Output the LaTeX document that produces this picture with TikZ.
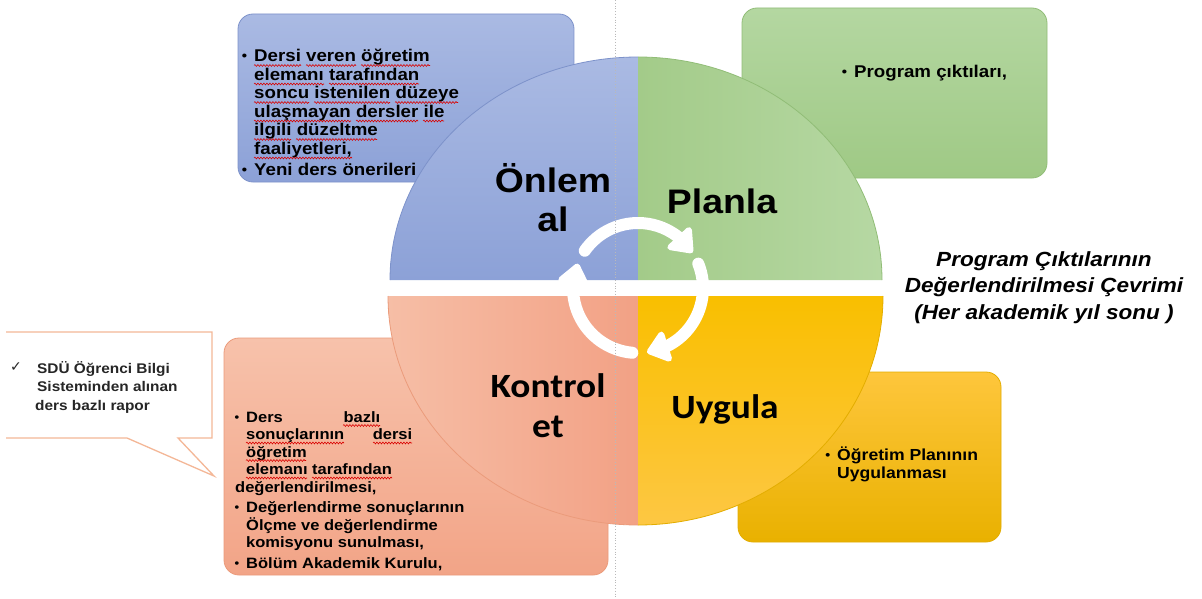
\documentclass[tikz,border=0pt]{standalone}
\usepackage{fontspec}
\setmainfont[FakeStretch=1.1]{Liberation Sans}
\newfontfamily\calfont[FakeStretch=1.1]{Carlito}
\newfontfamily\symfont{DejaVu Sans}
\usepackage{graphicx}
\usetikzlibrary{arrows.meta,bending,decorations.pathmorphing}

\definecolor{blaaTopp}{HTML}{AABAE3}
\definecolor{blaaBunn}{HTML}{8CA1D7}
\definecolor{blaaKant}{HTML}{7D92CA}
\definecolor{gronnV}{HTML}{A3CB89}
\definecolor{gronnH}{HTML}{B6D8A3}
\definecolor{gronnTopp}{HTML}{B4D7A1}
\definecolor{gronnBunn}{HTML}{9FC985}
\definecolor{gronnKant}{HTML}{91BD77}
\definecolor{oransjeV}{HTML}{F6BEA6}
\definecolor{oransjeH}{HTML}{F2A185}
\definecolor{oransjeTopp}{HTML}{F7C2AB}
\definecolor{oransjeBunn}{HTML}{F2A487}
\definecolor{oransjeKant}{HTML}{EB9B7B}
\definecolor{gulTopp}{HTML}{FEC63C}
\definecolor{gulBunn}{HTML}{E9B100}
\definecolor{gulKvartTopp}{HTML}{F9BF00}
\definecolor{gulKvartBunn}{HTML}{FDC743}
\definecolor{gulKant}{HTML}{E3AD00}
\definecolor{boble}{HTML}{F4B797}

\newcommand\kule{\leavevmode\llap{\raisebox{1pt}{\scalebox{0.8}{•}}\hspace{7pt}}}
\newcommand\linjer[2]{\fontsize{#1}{#2}\selectfont\lineskiplimit=-100pt\lineskip=0pt}

\begin{document}
\begin{tikzpicture}[x=1pt, y=-1pt,
    boks/.style={rounded corners=15pt, line width=0.8pt},
    kant/.style={line width=0.8pt},
    pil/.style={white, line width=12pt, line cap=round, -{Triangle[length=24pt,width=36pt,round]}},
    bolge/.style={red!85!black, line width=0.6pt, decorate, decoration={snake, amplitude=0.9pt, segment length=3pt}},
    tekst/.style={anchor=base west, inner sep=0pt, font=\bfseries}]
    \fill[white] (0,0) rectangle (1202,599); % bakgrunn
    \useasboundingbox (0,0) rectangle (1202,599);

    \shade[boks, top color=blaaTopp, bottom color=blaaBunn, draw=blaaKant] (238,14) rectangle (574,182); % blå boks
    \shade[boks, top color=gronnTopp, bottom color=gronnBunn, draw=gronnKant] (742,8) rectangle (1047,178); % grønn boks
    \shade[boks, top color=oransjeTopp, bottom color=oransjeBunn, draw=oransjeKant] (224,338) rectangle (608,575); % oransje boks
    \shade[boks, top color=gulTopp, bottom color=gulBunn, draw=gulKant] (738,372) rectangle (1001,542); % gul boks
    \draw[boble, line width=1.3pt] (6,332) -- (212,332) -- (212,438) -- (178,438) -- (214,476) -- (127,438) -- (6,438); % snakkeboble

    \shade[top color=blaaTopp, bottom color=blaaBunn] (638,280) -- (390,280) arc[start angle=180, end angle=270, x radius=248, y radius=223] -- cycle; % oppe til venstre
    \draw[kant, blaaKant] (390,280) arc[start angle=180, end angle=270, x radius=248, y radius=223];
    \shade[left color=gronnV, right color=gronnH] (638,280) -- (638,57) arc[start angle=270, end angle=360, x radius=244, y radius=223] -- cycle; % oppe til høyre
    \draw[kant, gronnKant] (638,57) arc[start angle=270, end angle=360, x radius=244, y radius=223];
    \shade[left color=oransjeV, right color=oransjeH] (638,296) -- (388,296) arc[start angle=180, end angle=90, x radius=250, y radius=229] -- cycle; % nede til venstre
    \draw[kant, oransjeKant] (388,296) arc[start angle=180, end angle=90, x radius=250, y radius=229];
    \shade[top color=gulKvartTopp, bottom color=gulKvartBunn] (638,296) -- (638,525) arc[start angle=90, end angle=0, x radius=245, y radius=229] -- cycle; % nede til høyre
    \draw[kant, gulKant] (638,525) arc[start angle=90, end angle=0, x radius=245, y radius=229];

    \draw[pil] (638,288) ++(-145:65) arc[start angle=-145, end angle=-33, radius=65]; % piler i sirkel
    \draw[pil] (638,288) ++(-22:65) arc[start angle=-22, end angle=82, radius=65];
    \draw[pil] (638,288) ++(95:65) arc[start angle=95, end angle=202, radius=65];

    \draw[gray!55, dotted, line width=0.8pt] (615,0) -- (615,599); % hjelpelinje

    \node[anchor=base, inner sep=0pt, font=\bfseries] (onlem) at (553,193) {\parbox[t]{150pt}{\centering\linjer{34}{39}Önlem\\ al}};
    \node[anchor=base, inner sep=0pt, font=\bfseries\fontsize{34}{39}\selectfont] (planla) at (722,213) {Planla};
    \node[anchor=base, inner sep=0pt, font=\calfont\bfseries] (kontrol) at (548,397) {\parbox[t]{150pt}{\centering\linjer{34}{40}Kontrol\\ et}};
    \node[anchor=base, inner sep=0pt, font=\calfont\bfseries\fontsize{34}{40}\selectfont] (uygula) at (725,418) {Uygula};

    \node[tekst] (blaatekst) at (254,62) {\parbox[t]{250pt}{\raggedright\linjer{17}{18.5}%
        \kule Dersi veren öğretim\\
        elemanı tarafından\\
        soncu istenilen düzeye\\
        ulaşmayan dersler ile\\
        ilgili düzeltme\\
        faaliyetleri,\\[3pt]
        \kule Yeni ders önerileri}};
    \node[tekst] (gronntekst) at (854,78) {\parbox[t]{200pt}{\raggedright\linjer{17}{18.5}\kule Program çıktıları,}};
    \node[tekst] (gultekst) at (837,460) {\parbox[t]{200pt}{\raggedright\linjer{16}{18}\kule Öğretim Planının\\ Uygulanması}};
    \node[tekst] (oransjetekst) at (246,422) {\parbox[t]{250pt}{\raggedright\linjer{15}{17.5}%
        \kule\hbox to 134pt{Ders\hfill bazlı}\\
        \leavevmode\hbox to 166pt{sonuçlarının\hfill dersi}\\
        öğretim\\
        elemanı tarafından\\
        \hspace*{-11pt}değerlendirilmesi,\\[3pt]
        \kule Değerlendirme sonuçlarının\\
        Ölçme ve değerlendirme\\
        komisyonu sunulması,\\[3pt]
        \kule Bölüm Akademik Kurulu,}};
    \node[tekst, text=black!85] (hake) at (10,371) {\symfont\fontsize{14}{14}\selectfont ✓};
    \node[tekst, text=black!85] (bobletekst) at (37,373) {\parbox[t]{200pt}{\raggedright\linjer{14}{18.5}SDÜ Öğrenci Bilgi\\ Sisteminden alınan\\ \hspace*{-2pt}ders bazlı rapor}};
    \node[anchor=base, inner sep=0pt, font=\bfseries\itshape] (tittel) at (1044,266) {\parbox[t]{320pt}{\centering\linjer{20.5}{26.5}Program Çıktılarının\\ Değerlendirilmesi Çevrimi\\ (Her akademik yıl sonu )}};

    \draw[bolge] (254,65.5) -- (301,65.5); % stavekontroll i blå boks
    \draw[bolge] (306,65.5) -- (356,65.5);
    \draw[bolge] (361,65.5) -- (430,65.5);
    \draw[bolge] (254,84) -- (324,84);
    \draw[bolge] (329,84) -- (419,84);
    \draw[bolge] (254,102.5) -- (309,102.5);
    \draw[bolge] (314,102.5) -- (390,102.5);
    \draw[bolge] (395,102.5) -- (458,102.5);
    \draw[bolge] (254,121) -- (351,121);
    \draw[bolge] (356,121) -- (418,121);
    \draw[bolge] (423,121) -- (444,121);
    \draw[bolge] (254,139.5) -- (291,139.5);
    \draw[bolge] (296,139.5) -- (377,139.5);
    \draw[bolge] (254,158) -- (352,158);
    \draw[bolge] (343,425.5) -- (380,425.5); % stavekontroll i oransje boks
    \draw[bolge] (246,443) -- (344,443);
    \draw[bolge] (373,443) -- (412,443);
    \draw[bolge] (246,460.5) -- (306,460.5);
    \draw[bolge] (246,478) -- (307,478);
    \draw[bolge] (312,478) -- (392,478);
\end{tikzpicture}
\end{document}
